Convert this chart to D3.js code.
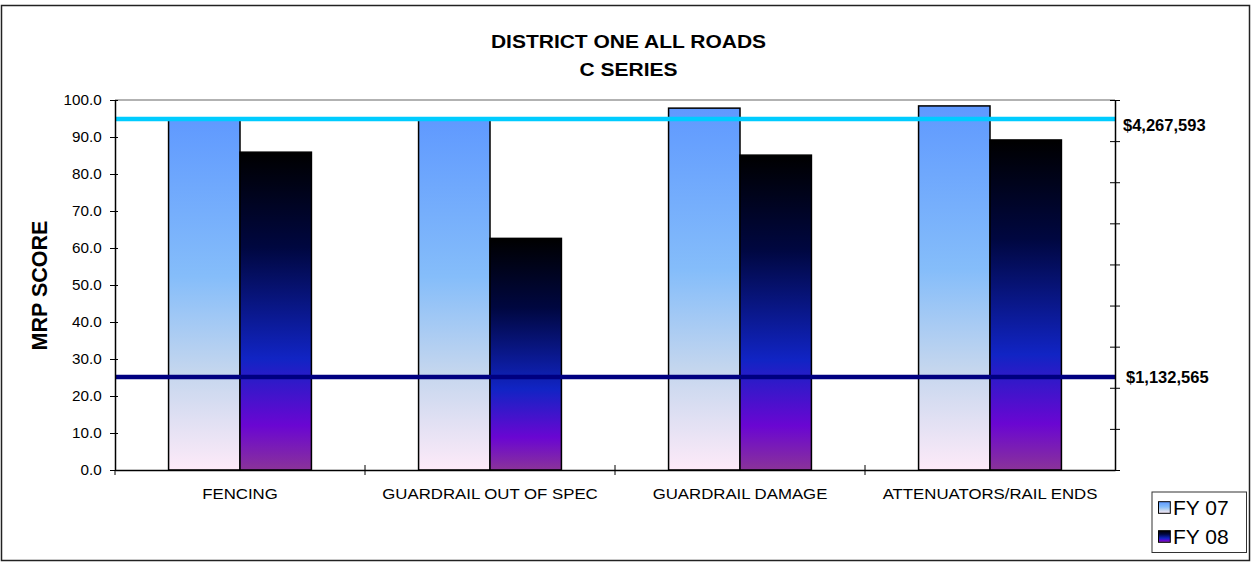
<!DOCTYPE html>
<html><head><meta charset="utf-8">
<script src="https://cdn.jsdelivr.net/npm/d3@7"></script>
<style>body{margin:0;background:#fff}svg{display:block;font-family:Arial,"Liberation Sans",sans-serif}</style>
</head><body>
<svg id="c" width="1252" height="563"></svg>
<script>
const categories = ["FENCING","GUARDRAIL OUT OF SPEC","GUARDRAIL DAMAGE","ATTENUATORS/RAIL ENDS"];
const seriesNames = ["FY 07","FY 08"];
const fy07 = [95.1, 95.0, 97.8, 98.4];
const fy08 = [85.9, 62.6, 85.1, 89.2];
const yTicks = [0,10,20,30,40,50,60,70,80,90,100];
const y2Ticks = [0,500000,1000000,1500000,2000000,2500000,3000000,3500000,4000000,4500000];
const budgetLines = [4267593, 1132565];
const budgetLabels = ["$4,267,593","$1,132,565"];
const titleLines = ["DISTRICT ONE ALL ROADS","C SERIES"];
const yTitle = "MRP SCORE";

const svg = d3.select("#c");
const L=115, R=1115, T=100, B=470;
const x = d3.scaleBand().domain(categories).range([L,R]).paddingInner(0).paddingOuter(0);
const y = d3.scaleLinear().domain([0,100]).range([B,T]);
const y2 = d3.scaleLinear().domain([0,4500000]).range([B,T]);

function stext(parent, tx, ty, sx, size, anchor, bold, str){
  const g = parent.append("g").attr("transform",`translate(${tx},${ty}) scale(${sx},1)`);
  g.append("text").attr("text-anchor",anchor).attr("font-size",size)
   .attr("font-weight",bold?"bold":"normal").attr("fill","#000").text(str);
  return g;
}

const defs = svg.append("defs");
const g07 = defs.append("linearGradient").attr("id","g07").attr("x1",0).attr("y1",0).attr("x2",0).attr("y2",1);
[[0,"#5f99ff"],[0.45,"#85bdfa"],[0.72,"#c4d6ee"],[1,"#fdeaf8"]].forEach(s=>g07.append("stop").attr("offset",s[0]).attr("stop-color",s[1]));
const g08 = defs.append("linearGradient").attr("id","g08").attr("x1",0).attr("y1",0).attr("x2",0).attr("y2",1);
[[0,"#000000"],[0.3,"#000740"],[0.65,"#1124c4"],[0.86,"#6a06d2"],[1,"#8a3399"]].forEach(s=>g08.append("stop").attr("offset",s[0]).attr("stop-color",s[1]));

// outer border
svg.append("rect").attr("x",1.5).attr("y",5.5).attr("width",1248).attr("height",555).attr("fill","none").attr("stroke","#222").attr("stroke-width",1.5);

// title
stext(svg, 628.5, 48.3, 1.2, 17.5, "middle", true, titleLines[0]);
stext(svg, 628.5, 75.7, 1.2, 17.5, "middle", true, titleLines[1]);

// top plot border
svg.append("line").attr("x1",L).attr("x2",R).attr("y1",T).attr("y2",T).attr("stroke","#999").attr("stroke-width",1.5);

// bars
const bw = x.bandwidth()/3.5;
const pad = x.bandwidth()*0.75/3.5;
const data = [fy07, fy08];
const fills = ["url(#g07)","url(#g08)"];
data.forEach((vals,si)=>{
  svg.append("g").selectAll("rect").data(categories).join("rect")
    .attr("x",(c)=>x(c)+pad+si*bw)
    .attr("y",(c,i)=>y(vals[i]))
    .attr("width",bw)
    .attr("height",(c,i)=>B-y(vals[i]))
    .attr("fill",fills[si]).attr("stroke","#000").attr("stroke-width",1.5);
});

// budget lines
const lineColors = ["#00ccff","#000080"];
const labelDx = [8, 11], labelDy = [11.4, 6.3];
budgetLines.forEach((v,i)=>{
  svg.append("line").attr("x1",L).attr("x2",R).attr("y1",y2(v)).attr("y2",y2(v)).attr("stroke",lineColors[i]).attr("stroke-width",4.5);
  stext(svg, R+labelDx[i], y2(v)+labelDy[i], 1.0, 16.5, "start", true, budgetLabels[i]);
});

// left axis
const ya = svg.append("g").attr("transform",`translate(${L},0)`)
  .call(d3.axisLeft(y).tickValues(yTicks).tickFormat("").tickSizeInner(5).tickSizeOuter(0));
ya.select(".domain").attr("stroke","#000").attr("stroke-width",1.5);
ya.selectAll(".tick line").attr("x2",3).attr("x1",-5).attr("stroke","#000");
const fmt = d3.format(".1f");
yTicks.forEach(t=>stext(svg, L-13.3, y(t)+5.2, 1.09, 14, "end", false, fmt(t)));

// right axis
const y2a = svg.append("g").attr("transform",`translate(${R},0)`)
  .call(d3.axisRight(y2).tickValues(y2Ticks).tickFormat("").tickSizeInner(5).tickSizeOuter(0));
y2a.select(".domain").attr("stroke","#000").attr("stroke-width",1.5);
y2a.selectAll(".tick line").attr("x1",-5).attr("x2",5).attr("stroke","#000");

// bottom axis
const xa = svg.append("g").attr("transform",`translate(0,${B})`)
  .call(d3.axisBottom(x).tickSize(0).tickSizeOuter(0).tickFormat(""));
xa.select(".domain").attr("stroke","#000").attr("stroke-width",1.5);
xa.selectAll(".tick line").remove();
categories.forEach(c=>stext(svg, x(c)+x.bandwidth()/2, 499.3, 1.12, 15, "middle", false, c));
svg.append("g").selectAll("line").data(categories.slice(1)).join("line")
  .attr("x1",c=>x(c)).attr("x2",c=>x(c)).attr("y1",B-5).attr("y2",B+5).attr("stroke","#000");
svg.append("line").attr("x1",L).attr("x2",L).attr("y1",B).attr("y2",B+5).attr("stroke","#000");

// y title
svg.append("text").attr("transform","translate(46.5,285.5) rotate(-90)").attr("text-anchor","middle")
  .attr("font-weight","bold").attr("font-size",21.5).text(yTitle);

// legend
const lg = svg.append("g");
lg.append("rect").attr("x",1152).attr("y",492).attr("width",94.5).attr("height",60.5).attr("fill","#fff").attr("stroke","#333");
seriesNames.forEach((n,i)=>{
  const cy = 507.5 + i*29;
  lg.append("rect").attr("x",1158.5).attr("y",cy-5.8).attr("width",11.8).attr("height",11.6).attr("fill",fills[i]).attr("stroke","#000");
  lg.append("text").attr("x",1173).attr("y",cy+7).attr("font-size",21).text(n);
});
</script>
</body></html>
